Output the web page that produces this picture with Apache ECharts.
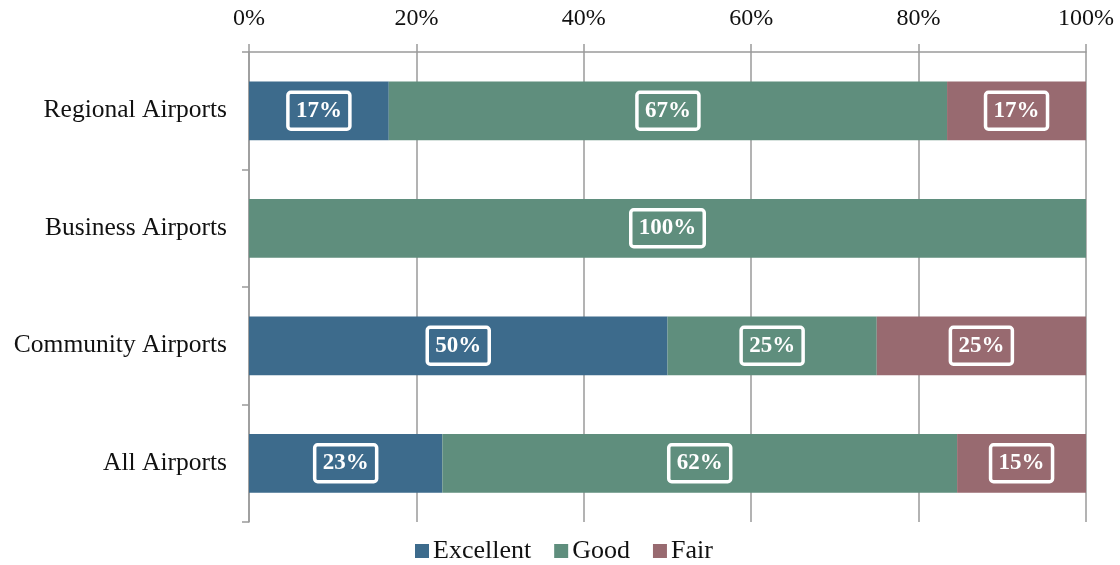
<!DOCTYPE html>
<html>
<head>
<meta charset="utf-8">
<script src="https://cdn.jsdelivr.net/npm/echarts@6/dist/echarts.min.js"></script>
<style>html,body{margin:0;padding:0;background:#fff}#chart{width:1120px;height:565px}</style>
</head>
<body>
<div id="chart"></div>
<script>
const categories = ['Regional Airports', 'Business Airports', 'Community Airports', 'All Airports'];
const excellent = [16.7, 0, 50, 23.1];
const good = [66.7, 100, 25, 61.5];
const fair = [16.7, 0, 25, 15.4];
const xTicks = [0, 20, 40, 60, 80, 100];
const seriesNames = ['Excellent', 'Good', 'Fair'];
const colors = ['#3d6b8c', '#5f8e7d', '#986a70'];

const FONT = 'Liberation Serif';
const chart = echarts.init(document.getElementById('chart'));
const label = {
  show: true,
  position: 'inside',
  color: '#fff',
  fontFamily: FONT,
  fontWeight: 'bold',
  fontSize: 23,
  borderColor: '#fff',
  borderWidth: 3.5,
  borderRadius: 3,
  padding: [8, 8, 6, 8],
  formatter: p => Math.round(p.value) + '%'
};
const mk = (name, data, color) => ({
  name, type: 'bar', stack: 'total',
  data: data.map(v => v > 0 ? v : { value: v, label: { show: false } }),
  barCategoryGap: '50%',
  itemStyle: { color },
  label: Object.assign({}, label),
  emphasis: { disabled: true }
});
chart.setOption({
  animation: false,
  textStyle: { fontFamily: FONT },
  grid: { left: 249, right: 34, top: 52, bottom: 43 },
  legend: {
    bottom: -4, left: 410,
    itemWidth: 14, itemHeight: 14, itemGap: 23,
    icon: 'rect',
    textStyle: { fontFamily: FONT, fontSize: 26, color: '#111', padding: [0, 0, 0, -1] },
    data: seriesNames
  },
  xAxis: {
    type: 'value', position: 'top', min: 0, max: 100, interval: 20,
    axisLine: { show: true, lineStyle: { color: '#9a9a9a', width: 1.5 } },
    axisTick: { show: true, length: 8, lineStyle: { color: '#9a9a9a', width: 1.5 } },
    splitLine: { show: true, lineStyle: { color: '#9a9a9a', width: 1.5 } },
    axisLabel: { margin: 21, fontFamily: FONT, fontSize: 24, color: '#111',
      formatter: v => xTicks.includes(v) ? v + '%' : '' }
  },
  yAxis: {
    type: 'category', inverse: true, data: categories,
    axisLine: { show: true, lineStyle: { color: '#9a9a9a', width: 1.5 } },
    axisTick: { show: true, length: 7, lineStyle: { color: '#9a9a9a', width: 1.5 } },
    axisLabel: { margin: 22, fontFamily: FONT, fontSize: 25.5, color: '#111' }
  },
  series: [
    mk(seriesNames[0], excellent, colors[0]),
    mk(seriesNames[1], good, colors[1]),
    mk(seriesNames[2], fair, colors[2])
  ]
});
</script>
</body>
</html>
